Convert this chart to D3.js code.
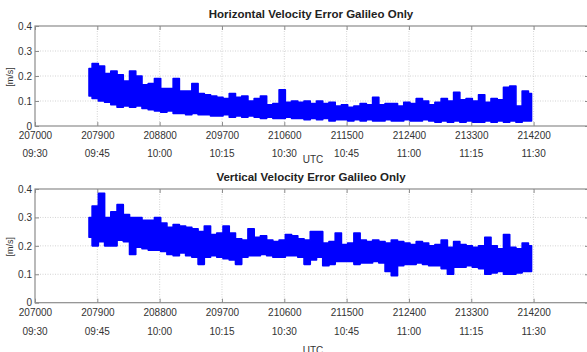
<!DOCTYPE html>
<html>
<head>
<meta charset="utf-8">
<script src="https://cdn.jsdelivr.net/npm/d3@7"></script>
<style>
  html, body { margin: 0; padding: 0; background: #fff; }
  svg { display: block; }
  text { font-family: "Liberation Sans", Arial, sans-serif; }
</style>
</head>
<body>
<svg id="chart" width="587" height="352"></svg>
<script>
// ---------- data ----------
const xTicks = [207000, 207900, 208800, 209700, 210600, 211500, 212400, 213300, 214200];
const timeLabels = ["09:30", "09:45", "10:00", "10:15", "10:30", "10:45", "11:00", "11:15", "11:30"];
const yTicks = [0, 0.1, 0.2, 0.3, 0.4];
const xDomain = [207000, 215000];
const yDomain = [0, 0.4];
const sampleStart = 207780;   // first sample time
const sampleStep = 90;        // time between envelope samples

// Horizontal velocity error envelope [m/s]
const horizHigh = [0.23, 0.25, 0.24, 0.21, 0.22, 0.205, 0.18, 0.22, 0.2, 0.165,
  0.17, 0.19, 0.15, 0.15, 0.19, 0.14, 0.14, 0.17, 0.13, 0.125,
  0.12, 0.115, 0.11, 0.13, 0.115, 0.12, 0.1, 0.11, 0.12, 0.085,
  0.09, 0.145, 0.095, 0.1, 0.095, 0.1, 0.09, 0.1, 0.09, 0.095,
  0.08, 0.085, 0.075, 0.08, 0.09, 0.085, 0.115, 0.085, 0.09, 0.09,
  0.08, 0.095, 0.09, 0.11, 0.1, 0.085, 0.095, 0.11, 0.1, 0.135,
  0.105, 0.11, 0.1, 0.125, 0.095, 0.11, 0.105, 0.155, 0.16, 0.08,
  0.14, 0.13];
const horizLow = [0.12, 0.11, 0.1, 0.095, 0.085, 0.075, 0.08, 0.075, 0.08, 0.07,
  0.065, 0.06, 0.055, 0.06, 0.05, 0.05, 0.045, 0.05, 0.045, 0.045,
  0.04, 0.04, 0.045, 0.035, 0.04, 0.035, 0.04, 0.035, 0.03, 0.035,
  0.03, 0.03, 0.035, 0.03, 0.03, 0.025, 0.03, 0.025, 0.03, 0.02,
  0.025, 0.025, 0.02, 0.025, 0.02, 0.025, 0.02, 0.02, 0.025, 0.02,
  0.02, 0.025, 0.02, 0.02, 0.025, 0.02, 0.015, 0.02, 0.015, 0.02,
  0.015, 0.02, 0.015, 0.015, 0.02, 0.015, 0.02, 0.015, 0.02, 0.015,
  0.02, 0.02];

// Vertical velocity error envelope [m/s]
const vertHigh = [0.3, 0.34, 0.385, 0.3, 0.32, 0.345, 0.31, 0.3, 0.3, 0.29,
  0.29, 0.3, 0.28, 0.265, 0.275, 0.27, 0.265, 0.26, 0.25, 0.27,
  0.24, 0.245, 0.27, 0.245, 0.225, 0.22, 0.26, 0.23, 0.235, 0.22,
  0.215, 0.22, 0.24, 0.235, 0.225, 0.22, 0.25, 0.25, 0.21, 0.215,
  0.245, 0.205, 0.21, 0.245, 0.22, 0.215, 0.22, 0.215, 0.21, 0.22,
  0.215, 0.21, 0.205, 0.215, 0.21, 0.2, 0.205, 0.22, 0.195, 0.215,
  0.205, 0.2, 0.195, 0.2, 0.23, 0.2, 0.19, 0.24, 0.195, 0.19,
  0.21, 0.2];
const vertLow = [0.23, 0.2, 0.215, 0.2, 0.2, 0.22, 0.215, 0.17, 0.195, 0.19,
  0.185, 0.185, 0.18, 0.17, 0.165, 0.175, 0.165, 0.16, 0.135, 0.16,
  0.165, 0.16, 0.155, 0.15, 0.135, 0.16, 0.165, 0.165, 0.17, 0.165,
  0.16, 0.16, 0.165, 0.165, 0.16, 0.135, 0.15, 0.16, 0.13, 0.135,
  0.145, 0.145, 0.145, 0.135, 0.14, 0.14, 0.145, 0.14, 0.11, 0.095,
  0.13, 0.135, 0.135, 0.14, 0.135, 0.13, 0.13, 0.12, 0.1, 0.125,
  0.125, 0.13, 0.125, 0.12, 0.1, 0.105, 0.11, 0.1, 0.1, 0.105,
  0.11, 0.11];

// ---------- drawing ----------
const svg = d3.select("#chart");
const left = 35, right = 589;

function panel(cfg) {
  const x = d3.scaleLinear().domain(xDomain).range([left, right]);
  const y = d3.scaleLinear().domain(yDomain).range([cfg.bottom, cfg.top]);
  const g = svg.append("g");

  // grid
  g.append("g").selectAll("line").data(xTicks.slice(1)).join("line")
    .attr("x1", d => x(d)).attr("x2", d => x(d))
    .attr("y1", cfg.top).attr("y2", cfg.bottom)
    .attr("stroke", "#c8c8c8").attr("stroke-width", 0.8).attr("stroke-dasharray", "1,1.5");
  g.append("g").selectAll("line").data(yTicks.slice(1, -1)).join("line")
    .attr("x1", left).attr("x2", right)
    .attr("y1", d => y(d)).attr("y2", d => y(d))
    .attr("stroke", "#c8c8c8").attr("stroke-width", 0.8).attr("stroke-dasharray", "1,1.5");

  // data envelope
  const pts = cfg.high.map((h, i) => ({ t: sampleStart + i * sampleStep, hi: h, lo: cfg.low[i] }));
  const area = d3.area().curve(d3.curveStep)
    .x(d => x(d.t)).y0(d => y(d.lo)).y1(d => y(d.hi));
  g.append("path").datum(pts).attr("d", area)
    .attr("fill", "#0000ff").attr("stroke", "#0000ff")
    .attr("stroke-width", 1.6).attr("stroke-linejoin", "round");

  // frame
  g.append("rect").attr("x", left).attr("y", cfg.top)
    .attr("width", right - left).attr("height", cfg.bottom - cfg.top)
    .attr("fill", "none").attr("stroke", "#8c8c8c").attr("stroke-width", 1.2);

  // axes (ticks inward)
  const xAxis = d3.axisBottom(x).tickValues(xTicks).tickSize(-4).tickFormat(d3.format("d")).tickPadding(6);
  const xa = g.append("g").attr("transform", `translate(0,${cfg.bottom})`).call(xAxis);
  xa.select(".domain").remove();
  xa.selectAll(".tick line").attr("stroke", "#8c8c8c");
  xa.selectAll(".tick text").attr("font-size", 10).attr("fill", "#333")
    .attr("font-family", "Liberation Sans, Arial, sans-serif");

  const xAxisTop = d3.axisTop(x).tickValues(xTicks).tickSize(-4).tickFormat("");
  const xt = g.append("g").attr("transform", `translate(0,${cfg.top})`).call(xAxisTop);
  xt.select(".domain").remove();
  xt.selectAll(".tick line").attr("stroke", "#8c8c8c");

  const yAxis = d3.axisLeft(y).tickValues(yTicks).tickSize(-4).tickFormat(d => d === 0 ? "0" : d3.format(".1f")(d)).tickPadding(3);
  const ya = g.append("g").attr("transform", `translate(${left},0)`).call(yAxis);
  ya.select(".domain").remove();
  ya.selectAll(".tick line").attr("stroke", "#8c8c8c");
  ya.selectAll(".tick text").attr("font-size", 10).attr("fill", "#333")
    .attr("font-family", "Liberation Sans, Arial, sans-serif");

  const yAxisR = d3.axisRight(y).tickValues(yTicks).tickSize(-4).tickFormat("");
  const yr = g.append("g").attr("transform", `translate(${right},0)`).call(yAxisR);
  yr.select(".domain").remove();
  yr.selectAll(".tick line").attr("stroke", "#8c8c8c");

  // time labels row
  g.append("g").selectAll("text").data(xTicks).join("text")
    .attr("x", d => x(d)).attr("y", cfg.bottom + cfg.timeOffset)
    .attr("text-anchor", "middle").attr("font-size", 10).attr("fill", "#333")
    .text((d, i) => timeLabels[i]);

  // UTC label
  g.append("text").attr("x", 313).attr("y", cfg.bottom + cfg.utcOffset)
    .attr("text-anchor", "middle").attr("font-size", 10).attr("fill", "#333").text("UTC");

  // y label
  g.append("text")
    .attr("transform", `translate(13,${(cfg.top + cfg.bottom) / 2 + 1}) rotate(-90)`)
    .attr("text-anchor", "middle").attr("font-size", 9).attr("fill", "#333").text("[m/s]");

  // title
  g.append("text").attr("x", 311).attr("y", cfg.top - 8)
    .attr("text-anchor", "middle").attr("font-size", 11.5).attr("font-weight", "bold")
    .attr("fill", "#222").text(cfg.title);
}

panel({ top: 26, bottom: 126, title: "Horizontal Velocity Error Galileo Only",
        high: horizHigh, low: horizLow, timeOffset: 31, utcOffset: 37 });
panel({ top: 189, bottom: 302.7, title: "Vertical Velocity Error Galileo Only",
        high: vertHigh, low: vertLow, timeOffset: 32, utcOffset: 51 });
</script>
</body>
</html>
